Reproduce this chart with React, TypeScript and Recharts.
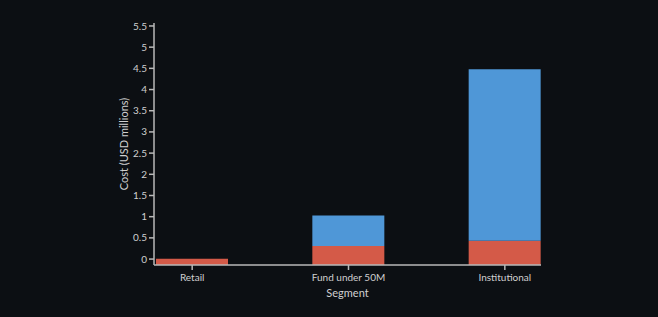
import { Bar, BarChart, Label, XAxis, YAxis } from "recharts";

const segments = ["Retail", "Fund under 50M", "Institutional"];
const redCost = [0.005, 0.31, 0.43];
const blueCost = [0.0, 0.72, 4.05];
const yTicks = [0, 0.5, 1, 1.5, 2, 2.5, 3, 3.5, 4, 4.5, 5, 5.5];

const Y_MIN = -0.14;
const Y_MAX = 5.57;

const data = segments.map((s, i) => ({
  segment: s,
  red: [Y_MIN, redCost[i]],
  blue: [redCost[i], redCost[i] + blueCost[i]],
}));

const axisColor = "#b8b8b8";
const textColor = "#d0d0d0";
const font = "Lato, sans-serif";

export default function App() {
  return (
    <div style={{ position: "absolute", left: 0, top: 0, width: 658, height: 317, background: "#0c0f13", fontFamily: font }}>
      <BarChart
        width={658}
        height={317}
        data={data}
        margin={{ top: 23, right: 117, bottom: 12, left: 100 }}
        barSize={72}
        barGap={-72}
      >
        <XAxis
          dataKey="segment"
          height={40}
          padding={{ left: -40, right: -42 }}
          stroke={axisColor}
          strokeWidth={1.5}
          tickSize={5}
          tick={{ fill: textColor, fontSize: 10, fontFamily: font, dy: 2 }}
        >
          <Label value="Segment" position="insideBottom" offset={8} fill={textColor} fontSize={11} fontFamily={font} />
        </XAxis>
        <YAxis
          type="number"
          domain={[Y_MIN, Y_MAX]}
          ticks={yTicks}
          width={54}
          stroke={axisColor}
          strokeWidth={1.5}
          tickSize={5}
          tick={{ fill: textColor, fontSize: 10, fontFamily: font }}
          allowDataOverflow
        >
          <Label value="Cost (USD millions)" angle={-90} position="insideLeft" offset={24} fill={textColor} fontSize={11} fontFamily={font} style={{ textAnchor: "middle" }} />
        </YAxis>
        <Bar dataKey="red" fill="#d45a48" isAnimationActive={false} />
        <Bar dataKey="blue" fill="#4f97d7" isAnimationActive={false} />
      </BarChart>
    </div>
  );
}
